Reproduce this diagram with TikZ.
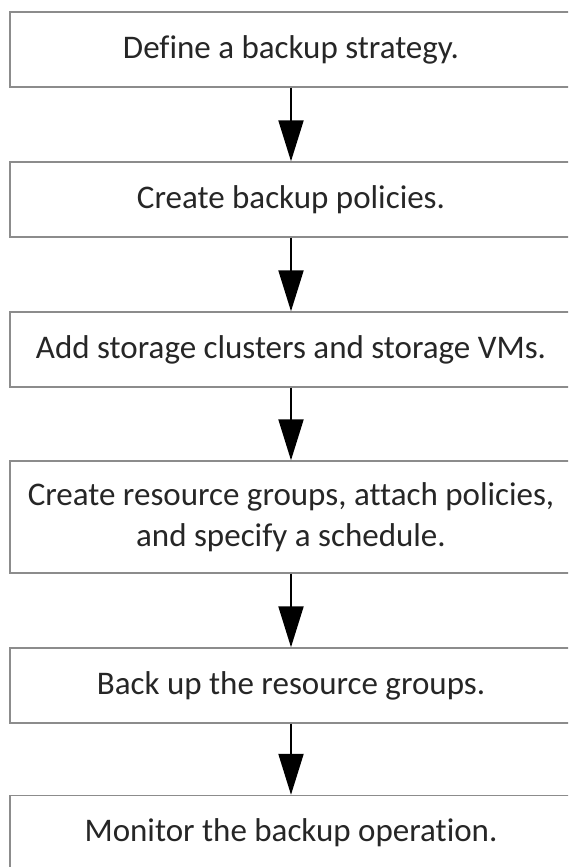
\documentclass[tikz,border=0pt]{standalone}
\usepackage{fontspec}
\setmainfont{Carlito}[Ligatures={NoCommon,NoRequired,NoContextual}]
\usetikzlibrary{arrows.meta}
\begin{document}
\begin{tikzpicture}[x=1pt,y=-1pt,
  stepbox/.style={draw=black!45,line width=1.4pt,fill=white,minimum width=562pt,
    minimum height=75pt,inner sep=0pt,font=\fontsize{33}{41.5}\selectfont,
    text=black!85,align=center},
  flow/.style={draw=black,line width=2pt,-{Triangle[width=25pt,length=41pt]}}]
\useasboundingbox (0,0) rectangle (568,867);
\clip (0,0) rectangle (568,867);
\fill[white] (0,0) rectangle (568,867);
\node[stepbox] (b1) at (291,49.5) {Define a backup strategy.};
\node[stepbox] (b2) at (291,199.5) {Create backup policies.};
\node[stepbox] (b3) at (291,349.5) {Add storage clusters and storage VMs.};
\node[stepbox,minimum height=112pt] (b4) at (291,517) {Create resource groups, attach policies,\\and specify a schedule.};
\node[stepbox] (b5) at (291,685.5) {Back up the resource groups.};
\node[stepbox] (b6) at (291,833) {Monitor the backup operation.};
\draw[flow] (b1.south) -- (b2.north);
\draw[flow] (b2.south) -- (b3.north);
\draw[flow] (b3.south) -- (b4.north);
\draw[flow] (b4.south) -- (b5.north);
\draw[flow] (b5.south) -- (b6.north);
\end{tikzpicture}
\end{document}
